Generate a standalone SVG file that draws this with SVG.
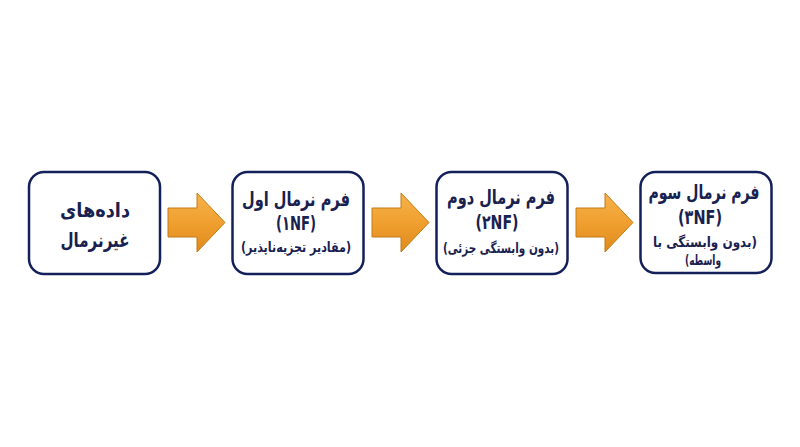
<svg xmlns="http://www.w3.org/2000/svg" width="800" height="447" viewBox="0 0 800 447">
<defs>
<linearGradient id="ag" x1="0" y1="0" x2="0" y2="1">
<stop offset="0" stop-color="#F6B24A"/>
<stop offset="0.5" stop-color="#F0A030"/>
<stop offset="1" stop-color="#DE8A1C"/>
</linearGradient>
<polygon id="arrow" points="0,208 29,208 29,193 57,222.5 29,252 29,237 0,237"/>
</defs>
<style>
.box{fill:#ffffff;stroke:#13205A;stroke-width:2.5}
.t{font-family:"DejaVu Sans","Noto Sans",sans-serif;font-weight:bold;fill:#18214F;text-anchor:middle}
.rtl{direction:rtl}
.big{font-size:20px}
.sm{font-size:14px}
.arr{fill:url(#ag);stroke:#C47B16;stroke-width:1}
</style>
<rect width="800" height="447" fill="#ffffff"/>
<g id="connectors">
<use href="#arrow" class="arr" x="168"/>
<use href="#arrow" class="arr" x="372"/>
<use href="#arrow" class="arr" x="576"/>
</g>
<g id="node1">
<rect class="box" x="29" y="172" width="131" height="102" rx="15"/>
<text class="t big rtl" x="95" y="217" textLength="70" lengthAdjust="spacingAndGlyphs">داده‌های</text>
<text class="t big rtl" x="95" y="247" textLength="69" lengthAdjust="spacingAndGlyphs">غیرنرمال</text>
</g>
<g id="node2">
<rect class="box" x="232.5" y="172" width="131" height="102" rx="15"/>
<text class="t big rtl" x="296" y="206" textLength="108" lengthAdjust="spacingAndGlyphs">فرم نرمال اول</text>
<text class="t big" x="296" y="230" textLength="40" lengthAdjust="spacingAndGlyphs">(۱NF)</text>
<text class="t sm rtl" x="296" y="252" textLength="110" lengthAdjust="spacingAndGlyphs">(مقادیر تجزیه‌ناپذیر)</text>
</g>
<g id="node3">
<rect class="box" x="436.5" y="172" width="131" height="102" rx="15"/>
<text class="t big rtl" x="501" y="204" textLength="108" lengthAdjust="spacingAndGlyphs">فرم نرمال دوم</text>
<text class="t big" x="497" y="229" textLength="43" lengthAdjust="spacingAndGlyphs">(۲NF)</text>
<text class="t sm rtl" x="501" y="253" textLength="116" lengthAdjust="spacingAndGlyphs">(بدون وابستگی جزئی)</text>
</g>
<g id="node4">
<rect class="box" x="640.5" y="172" width="131" height="101" rx="15"/>
<text class="t big rtl" x="704" y="199" textLength="111" lengthAdjust="spacingAndGlyphs">فرم نرمال سوم</text>
<text class="t big" x="700" y="224" textLength="44" lengthAdjust="spacingAndGlyphs">(۳NF)</text>
<text class="t sm rtl" x="705" y="247" textLength="104" lengthAdjust="spacingAndGlyphs">(بدون وابستگی با</text>
<text class="t sm rtl" x="703" y="265" textLength="36" lengthAdjust="spacingAndGlyphs">واسطه)</text>
</g>
</svg>
